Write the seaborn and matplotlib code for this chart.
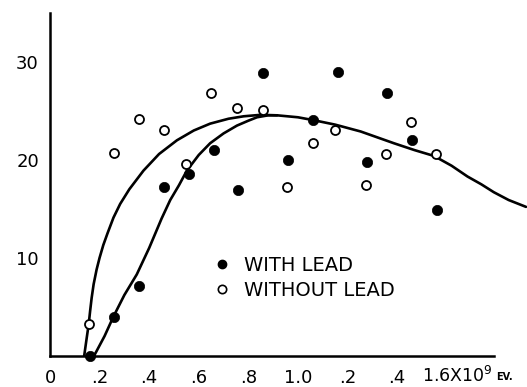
import matplotlib
matplotlib.use("Agg")
import matplotlib.pyplot as plt
import numpy as np
import pandas as pd
import seaborn as sns
from matplotlib.lines import Line2D

# ---- data ----
with_lead_x = [0.16, 0.26, 0.36, 0.46, 0.56, 0.66, 0.76, 0.86, 0.96, 1.06, 1.16, 1.28, 1.36, 1.46, 1.56]
with_lead_y = [0.0, 4.0, 7.1, 17.2, 18.6, 21.0, 16.9, 28.9, 20.0, 24.05, 29.0, 19.8, 26.8, 22.0, 14.9]

without_lead_x = [0.156, 0.26, 0.36, 0.46, 0.55, 0.65, 0.755, 0.86, 0.955, 1.06, 1.15, 1.275, 1.355, 1.455, 1.555]
without_lead_y = [3.2, 20.75, 24.15, 23.0, 19.6, 26.8, 25.3, 25.1, 17.2, 21.7, 23.0, 17.45, 20.6, 23.9, 20.55]

# curve through the "without lead" points (continues into the common falling branch)
curve_without_x = [0.138, 0.148, 0.156, 0.162, 0.168, 0.176, 0.188, 0.200, 0.215, 0.232, 0.256, 0.283,
                   0.32, 0.377, 0.44, 0.512, 0.58, 0.646, 0.72, 0.781, 0.85, 0.916, 1.0, 1.064,
                   1.15, 1.253, 1.32, 1.387, 1.47, 1.549, 1.62, 1.684, 1.74, 1.79, 1.85, 1.92]
curve_without_y = [0.0, 1.8, 3.2, 4.6, 5.9, 7.3, 8.8, 10.0, 11.3, 12.5, 14.1, 15.5,
                   17.0, 18.9, 20.6, 22.0, 23.0, 23.7, 24.2, 24.45, 24.6, 24.55, 24.35, 24.05,
                   23.6, 22.9, 22.3, 21.7, 21.0, 20.4, 19.4, 18.3, 17.5, 16.7, 15.9, 15.2]

# curve through the "with lead" points (joins the other near the maximum)
curve_with_x = [0.178, 0.22, 0.256, 0.30, 0.35, 0.40, 0.45, 0.485, 0.52, 0.552, 0.60, 0.646,
                0.70, 0.754, 0.80, 0.835, 0.88, 0.916]
curve_with_y = [0.0, 2.0, 4.0, 6.2, 8.3, 11.0, 14.0, 15.9, 17.4, 18.9, 20.5, 21.7,
                22.7, 23.5, 24.0, 24.35, 24.55, 24.55]

x_ticks = [0, 0.2, 0.4, 0.6, 0.8, 1.0, 1.2, 1.4, 1.6]
x_tick_labels = ["0", ".2", ".4", ".6", ".8", "1.0", ".2", ".4", ""]
last_x_label = "1.6X10$^{9}$"
x_unit = "EV."
y_ticks = [10, 20, 30]
y_tick_labels = ["10", "20", "30"]
legend_labels = ["WITH LEAD", "WITHOUT LEAD"]

# ---- style ----
sns.set_theme(style="white")
plt.rcParams["font.family"] = ["DejaVu Sans"]
plt.rcParams["text.color"] = "black"
plt.rcParams["axes.labelcolor"] = "black"
plt.rcParams["xtick.color"] = "black"
plt.rcParams["ytick.color"] = "black"
plt.rcParams["mathtext.default"] = "regular"

fig = plt.figure(figsize=(5.27, 3.87), dpi=100)
ax = fig.add_axes([50 / 527, 1 - 355.7 / 387, 476 / 527, (355.7 - 13) / 387])

df_cw = pd.DataFrame({"x": curve_without_x, "y": curve_without_y})
df_cl = pd.DataFrame({"x": curve_with_x, "y": curve_with_y})
sns.lineplot(data=df_cw, x="x", y="y", ax=ax, color="black", lw=1.9, sort=False,
             estimator=None, clip_on=False)
sns.lineplot(data=df_cl, x="x", y="y", ax=ax, color="black", lw=1.9, sort=False,
             estimator=None, clip_on=False)

df_w = pd.DataFrame({"x": with_lead_x, "y": with_lead_y})
df_wo = pd.DataFrame({"x": without_lead_x, "y": without_lead_y})
sns.scatterplot(data=df_wo, x="x", y="y", ax=ax, s=42, facecolor="white",
                edgecolor="black", linewidth=1.3, zorder=5, clip_on=False)
sns.scatterplot(data=df_w, x="x", y="y", ax=ax, s=55, color="black",
                edgecolor="black", linewidth=0.5, zorder=6, clip_on=False)

ax.set_xlim(0, 1.92)
ax.set_ylim(0, 35)
ax.set_xlabel("")
ax.set_ylabel("")

for side in ["top", "right"]:
    ax.spines[side].set_visible(False)
for side in ["left", "bottom"]:
    ax.spines[side].set_color("black")
    ax.spines[side].set_linewidth(1.8)
ax.spines["bottom"].set_bounds(0, 1.79)
ax.spines["left"].set_bounds(0, 35)

ax.set_xticks(x_ticks)
ax.set_xticklabels(x_tick_labels, fontsize=13)
ax.set_yticks(y_ticks)
ax.set_yticklabels(y_tick_labels, fontsize=13)
ax.tick_params(axis="x", direction="inout", length=9, width=1.4, pad=5)
ax.tick_params(axis="y", direction="inout", length=10, width=1.4, pad=3)

ax.annotate(last_x_label, xy=(1.6, 0), xycoords=("data", "axes fraction"),
            xytext=(7.5, -19), textcoords="offset points", ha="center", va="baseline",
            fontsize=12.5, annotation_clip=False)
fig.text(496 / 527, 1 - 377 / 387, x_unit, ha="left", va="center", fontsize=7,
         fontweight="bold")

handles = [
    Line2D([], [], marker="o", ls="none", color="black", markersize=6),
    Line2D([], [], marker="o", ls="none", markerfacecolor="white",
           markeredgecolor="black", markeredgewidth=1.2, markersize=6),
]
ax.legend(handles, legend_labels, loc="upper left",
          bbox_to_anchor=(215 / 527, 1 - 256 / 387), bbox_transform=fig.transFigure,
          frameon=False, fontsize=14, handlelength=0.7, handletextpad=0.8,
          borderpad=0, borderaxespad=0, labelspacing=0.3)

fig.savefig("out.png", dpi=100, facecolor="white")
